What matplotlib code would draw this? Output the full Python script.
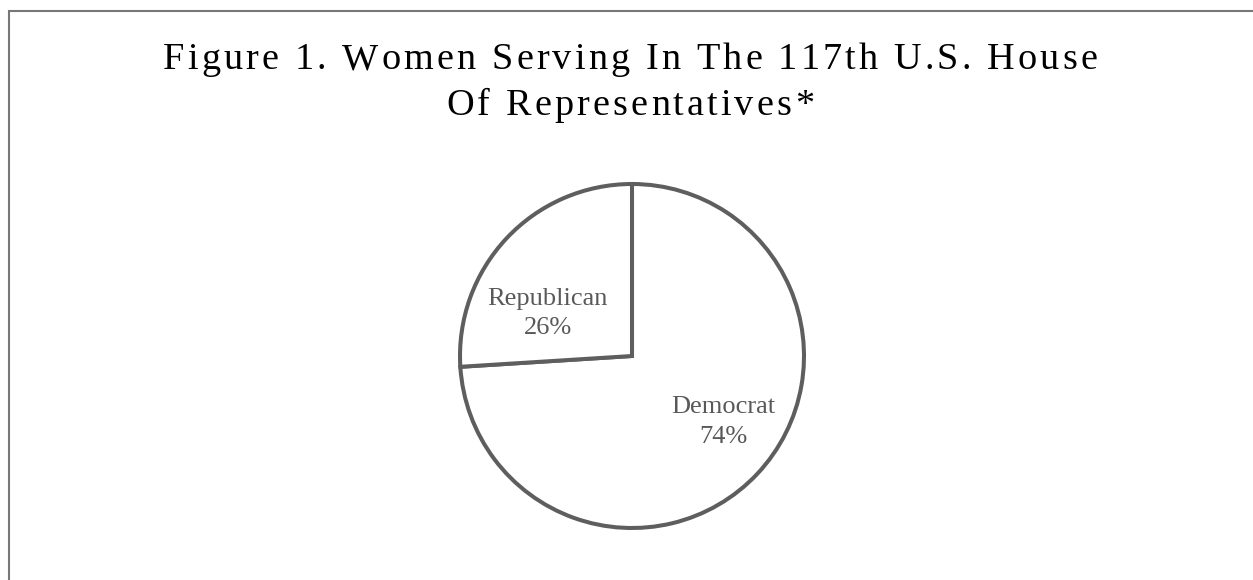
import matplotlib
matplotlib.use("Agg")
import matplotlib.pyplot as plt
from matplotlib.font_manager import FontProperties, findfont, get_font
from matplotlib.patches import Rectangle

# Data
categories = ["Democrat", "Republican"]
shares = [74, 26]
title_lines = [
    "Figure 1. Women Serving In The 117th U.S. House",
    "Of Representatives*",
]

W, H, DPI = 1253, 580, 100
SERIF = "Liberation Serif"
EDGE = "#5e5e5e"
LABEL_GREY = "#595959"

fig = plt.figure(figsize=(W / DPI, H / DPI), dpi=DPI)
fig.patch.set_facecolor("white")

# Chart-area frame (runs off the right and bottom edges)
fig.add_artist(Rectangle((8.5 / W, -0.1), 1.2, (1 - 11 / H) + 0.1,
                         transform=fig.transFigure, fill=False,
                         edgecolor="#777777", linewidth=1.5))


def tracked_text(s, center_x, baseline_y, size, tracking, color="black"):
    """Draw a single line of text with extra letter spacing (pixels)."""
    prop = FontProperties(family=SERIF, size=size)
    font = get_font(findfont(prop))
    font.set_size(size, DPI)
    advances = [font.load_char(ord(ch)).linearHoriAdvance / 65536 for ch in s]
    total = sum(advances) + tracking * (len(s) - 1)
    x = center_x - total / 2
    for ch, adv in zip(s, advances):
        fig.text(x / W, 1 - baseline_y / H, ch, fontproperties=prop,
                 color=color, ha="left", va="baseline")
        x += adv + tracking


tracked_text(title_lines[0], 630, 69, 27.5, 3.15)
tracked_text(title_lines[1], 630, 115, 27.5, 3.15)

# Pie
cx, cy, r = 632, 356, 172
ax = fig.add_axes([(cx - r) / W, (H - cy - r) / H, 2 * r / W, 2 * r / H])
wedges, _ = ax.pie(shares, startangle=90, counterclock=False,
                   colors=["white"] * len(shares),
                   wedgeprops=dict(edgecolor=EDGE, linewidth=2.9,
                                   clip_on=False, joinstyle="miter"))
ax.set_xlim(-1, 1)
ax.set_ylim(-1, 1)
ax.set_aspect("equal")
ax.axis("off")

label_pos = {"Democrat": (0.53, -0.384), "Republican": (-0.49, 0.247)}
for cat, val in zip(categories, shares):
    x, y = label_pos[cat]
    ax.text(x, y, f"{cat}\n{val}%", ha="center", va="center",
            family=SERIF, fontsize=19, color=LABEL_GREY, linespacing=1.42)

fig.savefig("out.png", dpi=DPI, facecolor="white")
